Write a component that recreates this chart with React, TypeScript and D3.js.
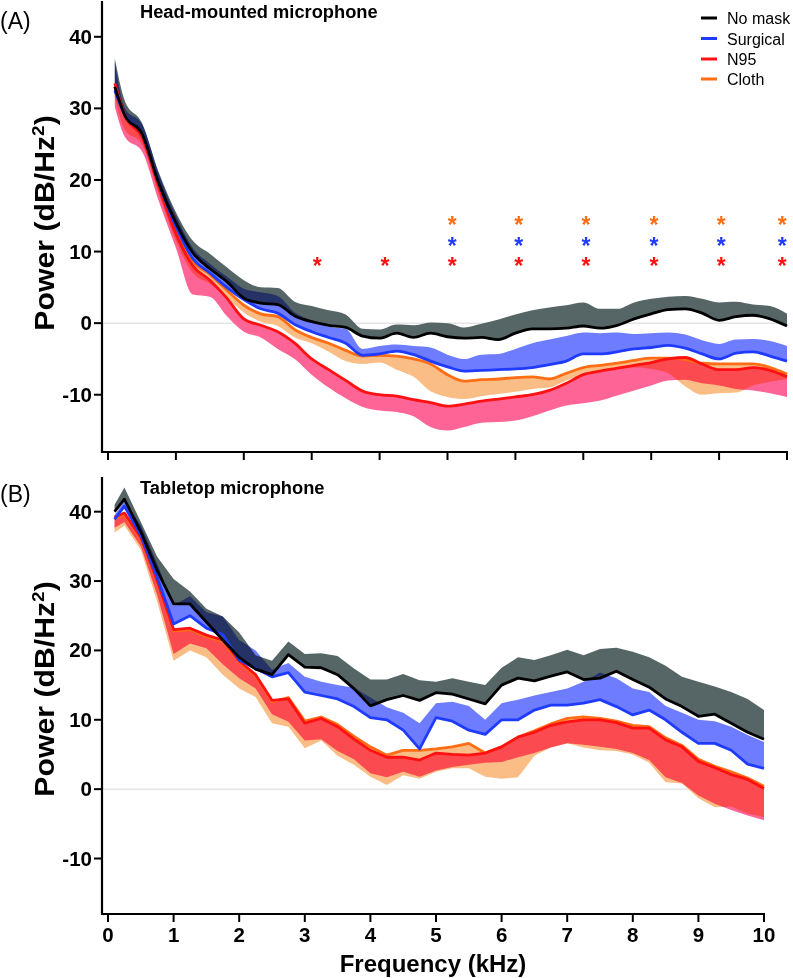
import React from 'react';
import * as d3 from 'd3';

// ---------- DATA ----------
const freqs = [0.1, 0.25, 0.5, 0.75, 1.0, 1.25, 1.5, 1.75, 2.0, 2.25, 2.5, 2.75, 3.0, 3.25, 3.5, 3.75, 4.0, 4.25, 4.5, 4.75, 5.0, 5.25, 5.5, 5.75, 6.0, 6.25, 6.5, 6.75, 7.0, 7.25, 7.5, 7.75, 8.0, 8.25, 8.5, 8.75, 9.0, 9.25, 9.5, 9.75, 10];

// Panel A: head-mounted microphone
const noMaskA = [33.0, 29.0, 26.5, 19.5, 14.0, 9.8, 7.6, 5.8, 3.5, 2.8, 2.6, 1.0, 0.2, -0.3, -0.6, -1.8, -2.1, -1.4, -2.0, -1.4, -1.9, -2.1, -2.0, -2.3, -1.4, -0.8, -0.8, -0.7, -0.4, -0.7, -0.3, 0.6, 1.3, 1.9, 2.0, 1.4, 0.4, 0.9, 1.1, 0.6, -0.4];
const noMaskAUpper = [37.0, 31.0, 28.0, 21.0, 15.5, 11.5, 9.7, 7.8, 6.0, 5.0, 4.9, 3.0, 2.4, 1.8, 1.2, -0.8, -0.9, -0.2, -0.3, 0.1, 0.0, -0.6, -0.1, 0.5, 1.2, 1.8, 2.2, 2.5, 2.9, 2.0, 2.0, 2.9, 3.4, 3.7, 3.8, 3.4, 2.9, 3.0, 2.6, 2.4, 1.3];
const surgicalA = [32.5, 29.0, 26.5, 19.5, 13.5, 9.0, 7.0, 5.0, 3.3, 2.0, 1.4, -0.2, -1.2, -2.0, -2.8, -4.5, -4.3, -3.9, -4.4, -5.3, -6.1, -6.7, -6.6, -6.5, -6.4, -6.2, -5.8, -5.3, -4.3, -4.3, -4.0, -3.6, -3.4, -3.1, -3.5, -4.3, -5.0, -4.2, -4.0, -4.6, -5.3];
const surgicalAUpper = [36.5, 30.0, 27.8, 20.8, 15.0, 10.5, 8.3, 6.5, 4.8, 4.3, 3.8, 1.5, 0.4, -0.5, -0.8, -3.6, -3.2, -3.0, -3.2, -3.4, -4.4, -5.0, -4.4, -4.3, -3.6, -2.8, -2.3, -1.8, -1.3, -1.4, -1.3, -1.5, -1.4, -1.3, -1.6, -2.4, -2.9, -2.3, -2.2, -2.5, -3.2];
const n95A = [33.5, 29.0, 26.0, 19.0, 12.5, 8.0, 6.0, 3.5, 0.6, -0.3, -1.2, -2.8, -5.0, -6.5, -8.0, -9.5, -10.0, -10.2, -10.7, -11.1, -11.6, -11.3, -10.9, -10.6, -10.3, -10.0, -9.4, -8.4, -7.2, -6.7, -6.3, -5.9, -5.5, -5.0, -4.8, -5.7, -6.5, -6.5, -6.2, -6.6, -7.5];
const n95ALower = [30.2, 26.0, 24.0, 17.0, 10.5, 4.0, 3.7, 1.0, -1.2, -2.0, -3.6, -5.0, -7.2, -9.0, -10.5, -11.7, -12.2, -12.4, -13.0, -14.5, -15.0, -14.5, -13.9, -13.8, -13.6, -13.0, -12.2, -11.5, -11.2, -10.8, -10.1, -9.4, -8.7, -8.0, -7.9, -8.4, -8.7, -9.2, -9.4, -9.8, -10.3];
const clothA = [33.0, 29.0, 26.2, 19.3, 12.8, 8.6, 6.8, 4.6, 2.5, 1.3, 0.9, -0.9, -2.0, -2.8, -3.8, -4.6, -4.5, -4.6, -5.0, -5.7, -7.2, -8.1, -7.9, -7.8, -7.6, -7.5, -7.8, -7.0, -6.2, -5.9, -5.6, -5.2, -4.9, -4.9, -5.1, -5.6, -5.7, -5.7, -5.7, -6.2, -7.1];
const clothALower = [31.5, 27.0, 25.0, 18.0, 11.5, 7.0, 5.5, 3.5, 1.5, 0.2, -0.4, -2.0, -2.8, -4.0, -5.3, -5.7, -5.5, -6.5, -7.5, -9.5, -10.3, -10.6, -10.2, -9.9, -9.6, -9.2, -9.0, -8.0, -7.2, -6.8, -6.4, -6.2, -6.4, -7.0, -8.8, -10.0, -9.8, -9.7, -8.7, -8.2, -7.8];

// Panel B: tabletop microphone
const noMaskB = [40.0, 41.8, 37.1, 31.5, 26.7, 26.7, 24.1, 21.5, 19.0, 17.3, 16.5, 19.4, 17.6, 17.5, 16.5, 14.5, 12.0, 12.9, 13.5, 12.8, 13.9, 13.7, 13.0, 12.3, 15.0, 16.0, 15.6, 16.3, 16.9, 15.8, 16.0, 17.0, 15.8, 14.7, 13.0, 11.9, 10.5, 10.8, 9.5, 8.2, 7.2];
const noMaskBUpper = [41.0, 43.5, 38.5, 33.5, 30.3, 28.5, 26.0, 24.9, 22.6, 19.3, 18.5, 21.3, 19.5, 19.6, 19.2, 17.4, 15.8, 15.8, 16.6, 15.7, 15.5, 16.0, 15.5, 15.0, 17.5, 19.0, 18.6, 19.3, 20.1, 19.3, 20.2, 20.4, 19.8, 19.0, 17.8, 16.2, 15.5, 14.8, 14.0, 13.0, 11.4];
const surgicalB = [38.9, 40.8, 36.6, 30.5, 23.8, 25.0, 23.2, 22.3, 18.6, 17.4, 16.2, 16.8, 14.0, 13.5, 13.0, 11.9, 10.3, 10.0, 8.5, 5.8, 10.3, 9.8, 8.5, 7.9, 10.0, 10.0, 11.4, 12.1, 12.1, 12.4, 12.9, 11.9, 10.7, 11.4, 10.0, 8.2, 6.6, 6.6, 5.6, 3.6, 3.0];
const surgicalBUpper = [39.5, 41.5, 38.0, 32.5, 26.5, 27.8, 25.5, 24.9, 21.5, 20.0, 17.2, 18.2, 16.2, 15.5, 15.0, 14.6, 13.2, 11.8, 11.0, 9.5, 12.4, 12.6, 12.0, 10.0, 12.4, 12.9, 13.5, 14.0, 14.5, 15.5, 16.8, 16.0, 14.5, 14.0, 12.0, 11.0, 10.0, 9.8, 9.0, 7.8, 6.8];
const n95B = [39.2, 39.8, 36.3, 30.0, 23.0, 23.2, 22.2, 21.5, 18.5, 16.5, 12.8, 13.0, 9.5, 10.2, 9.0, 7.2, 5.6, 4.6, 4.6, 4.2, 5.2, 5.0, 4.9, 5.2, 6.1, 7.5, 8.2, 9.2, 9.7, 10.0, 10.0, 9.6, 8.8, 8.8, 7.1, 6.1, 4.0, 3.1, 2.1, 1.4, 0.1];
const n95BLower = [37.7, 38.5, 35.0, 28.0, 19.5, 21.0, 20.3, 18.0, 16.0, 14.5, 10.8, 9.7, 7.0, 7.2, 5.5, 4.3, 2.3, 1.7, 2.5, 1.8, 2.7, 3.2, 3.5, 3.8, 3.9, 4.6, 5.2, 6.0, 6.6, 6.4, 6.1, 5.8, 5.2, 4.2, 1.7, 0.9, -0.9, -2.1, -3.0, -3.8, -4.5];
const clothB = [39.0, 39.6, 36.0, 29.8, 22.8, 23.0, 22.0, 21.3, 18.3, 16.3, 12.6, 13.2, 9.8, 10.4, 9.3, 7.6, 6.1, 4.9, 5.6, 5.6, 5.8, 6.1, 6.6, 5.2, 6.1, 7.5, 8.4, 9.4, 10.2, 10.4, 10.2, 9.8, 9.2, 9.0, 7.4, 6.3, 4.3, 3.3, 2.5, 1.6, 0.4];
const clothBLower = [37.0, 38.0, 34.5, 27.0, 18.5, 20.0, 19.0, 16.5, 14.5, 13.3, 9.5, 9.0, 5.9, 7.0, 4.8, 3.5, 1.8, 0.6, 2.0, 1.5, 2.5, 3.0, 3.0, 1.8, 1.5, 1.7, 4.8, 6.0, 6.6, 6.0, 5.6, 5.5, 5.0, 3.8, 1.0, 0.8, -1.3, -2.6, -2.5, -3.5, -4.0];

const yTicks = [-10, 0, 10, 20, 30, 40];
const xTicks = [0, 1, 2, 3, 4, 5, 6, 7, 8, 9, 10];
const yDomain = [-18, 45];
const xDomain = [0, 10];

// significance markers (kHz positions, dB level)
const sigN95Freqs = [3.08, 4.08, 5.07, 6.05, 7.04, 8.04, 9.03, 9.93];
const sigSurgicalFreqs = [5.07, 6.05, 7.04, 8.04, 9.03, 9.93];
const sigClothFreqs = [5.07, 6.05, 7.04, 8.04, 9.03, 9.93];
const sigLevels = { cloth: 14.4, surgical: 11.4, n95: 8.7 };

const legendNames = ['No mask', 'Surgical', 'N95', 'Cloth'];

// ---------- STYLE ----------
const C = {
  noMask: { line: '#000000', band: '#566666' },
  surgical: { line: '#1f3bff', band: '#6e7cff' },
  n95: { line: '#ff1111', band: '#ff6497' },
  cloth: { line: '#ff6d14', band: '#fbbd86' },
};
const FONT = '"Liberation Sans", Arial, Helvetica, sans-serif';

type Series = { key: keyof typeof C; mean: number[]; edge: number[]; up: boolean };

function Panel(props: {
  top: number; bottom: number; xRight: number; axisX: number; ylabelY: number;
  series: Series[]; title: string; label: string; labelY: number; titleY: number;
  showXLabels: boolean; sig: boolean; curve: any;
}) {
  const { top, bottom, xRight, axisX, ylabelY, series, title, label, labelY, titleY, showXLabels, sig, curve } = props;
  const x = d3.scaleLinear().domain(xDomain).range([108, xRight]);
  const y = d3.scaleLinear().domain(yDomain).range([bottom, top]);

  const line = (vals: number[]) =>
    d3.line<number>().x((_, i) => x(freqs[i])).y((v) => y(v)).curve(curve)(vals) || '';
  const band = (s: Series) =>
    d3.area<number>()
      .x((_, i) => x(freqs[i]))
      .y0((v) => y(v))
      .y1((_, i) => y(s.edge[i]))
      .curve(curve)(s.mean) || '';

  const lineOrder: (keyof typeof C)[] = ['cloth', 'n95', 'surgical', 'noMask'];
  const astFs = 23;
  const ast = (fs: number[], level: number, color: string, k: string) =>
    fs.map((f, i) => (
      <text key={k + i} x={x(f)} y={y(level) + 0.55 * astFs} textAnchor="middle" fontSize={astFs}
        fontWeight="bold" fill={color} fontFamily={FONT}>*</text>
    ));

  return (
    <g>
      {/* zero line */}
      <line x1={axisX} x2={xRight} y1={y(0)} y2={y(0)} stroke="#cccccc" strokeWidth={0.8} />
      {/* bands */}
      <g style={{ isolation: 'isolate' } as any}>
        {series.map((s) => (
          <path key={'b' + s.key} d={band(s)} fill={C[s.key].band} stroke="none"
            style={{ mixBlendMode: 'multiply' } as any} />
        ))}
      </g>
      {/* lines */}
      {lineOrder.map((k) => {
        const s = series.find((q) => q.key === k)!;
        return <path key={'l' + k} d={line(s.mean)} fill="none" stroke={C[k].line} strokeWidth={2.8}
          strokeLinejoin="round" />;
      })}
      {/* axes */}
      <line x1={axisX} x2={axisX} y1={top} y2={bottom + 1} stroke="#000" strokeWidth={2.2} />
      <line x1={axisX - 1} x2={xRight + 1} y1={bottom} y2={bottom} stroke="#000" strokeWidth={2.2} />
      {yTicks.map((t) => (
        <g key={'yt' + t}>
          <line x1={axisX - 8} x2={axisX} y1={y(t)} y2={y(t)} stroke="#000" strokeWidth={2} />
          <text x={axisX - 10} y={y(t) + 7} textAnchor="end" fontSize={20.5} fontWeight="bold"
            fontFamily={FONT} fill="#000">{t}</text>
        </g>
      ))}
      {xTicks.map((t) => (
        <g key={'xt' + t}>
          <line x1={x(t)} x2={x(t)} y1={bottom} y2={bottom + 8} stroke="#000" strokeWidth={2} />
          {showXLabels && (
            <text x={x(t)} y={bottom + 28} textAnchor="middle" fontSize={20.5} fontWeight="bold"
              fontFamily={FONT} fill="#000">{t}</text>
          )}
        </g>
      ))}
      {/* y label */}
      <text transform={`translate(54,${ylabelY}) rotate(-90) scale(1.12,1)`} textAnchor="middle" fontSize={27}
        fontWeight="bold" fontFamily={FONT} fill="#000">
        Power (dB/Hz<tspan dy={-10} fontSize={17}>2</tspan><tspan dy={10}>)</tspan>
      </text>
      {/* panel label and title */}
      <text x={0} y={labelY} fontSize={23} fontFamily={FONT} fill="#000">{label}</text>
      <text x={140} y={titleY} fontSize={18.3} fontWeight="bold" fontFamily={FONT} fill="#000">{title}</text>
      {sig && (
        <g>
          {ast(sigClothFreqs, sigLevels.cloth, C.cloth.line, 'c')}
          {ast(sigSurgicalFreqs, sigLevels.surgical, C.surgical.line, 's')}
          {ast(sigN95Freqs, sigLevels.n95, C.n95.line, 'n')}
        </g>
      )}
    </g>
  );
}

export default function App() {
  const seriesA: Series[] = [
    { key: 'noMask', mean: noMaskA, edge: noMaskAUpper, up: true },
    { key: 'surgical', mean: surgicalA, edge: surgicalAUpper, up: true },
    { key: 'n95', mean: n95A, edge: n95ALower, up: false },
    { key: 'cloth', mean: clothA, edge: clothALower, up: false },
  ];
  const seriesB: Series[] = [
    { key: 'noMask', mean: noMaskB, edge: noMaskBUpper, up: true },
    { key: 'surgical', mean: surgicalB, edge: surgicalBUpper, up: true },
    { key: 'n95', mean: n95B, edge: n95BLower, up: false },
    { key: 'cloth', mean: clothB, edge: clothBLower, up: false },
  ];
  const legendKeys: (keyof typeof C)[] = ['noMask', 'surgical', 'n95', 'cloth'];
  const legendY = [18, 38.5, 59, 79];

  return (
    <svg width={793} height={978} viewBox="0 0 793 978"
      style={{ position: 'absolute', left: 0, top: 0, background: '#fff' }}>
      <rect width={793} height={978} fill="#fff" />
      <Panel top={1} bottom={452} xRight={787} axisX={102} ylabelY={223} series={seriesA}
        title="Head-mounted microphone" label="(A)" labelY={29} titleY={18}
        showXLabels={false} sig={true} curve={d3.curveMonotoneX} />
      <Panel top={477} bottom={914} xRight={764} axisX={102} ylabelY={689} series={seriesB}
        title="Tabletop microphone" label="(B)" labelY={502} titleY={494}
        showXLabels={true} sig={false} curve={d3.curveLinear} />
      <text x={433} y={972} textAnchor="middle" fontSize={24} fontWeight="bold" fontFamily={FONT}
        fill="#000">Frequency (kHz)</text>
      {legendKeys.map((k, i) => (
        <g key={'lg' + k}>
          <line x1={701} x2={717} y1={legendY[i]} y2={legendY[i]} stroke={C[k].line} strokeWidth={3} />
          <text x={727} y={legendY[i] + 6} fontSize={16} fontFamily={FONT} fill="#000">{legendNames[i]}</text>
        </g>
      ))}
    </svg>
  );
}
